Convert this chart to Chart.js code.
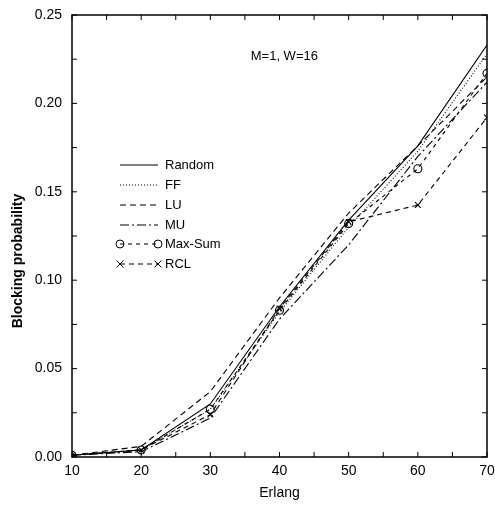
<!DOCTYPE html>
<html>
<head>
<meta charset="utf-8">
<script src="https://cdn.jsdelivr.net/npm/chart.js@4/dist/chart.umd.min.js"></script>
<style>
html,body{margin:0;padding:0;background:#fff;}
#wrap{width:495px;height:510px;}
</style>
</head>
<body>
<div id="wrap"><canvas id="c" width="495" height="510"></canvas></div>
<script>
const erlang = [10, 20, 30, 40, 50, 60, 70];
const randomVals = [0.001, 0.004, 0.030, 0.085, 0.134, 0.176, 0.233];
const ffVals     = [0.001, 0.004, 0.027, 0.082, 0.130, 0.173, 0.228];
const luVals     = [0.001, 0.006, 0.037, 0.090, 0.138, 0.176, 0.215];
const muVals     = [0.001, 0.003, 0.022, 0.078, 0.120, 0.170, 0.212];
const maxSumVals = [0.001, 0.004, 0.027, 0.083, 0.132, 0.163, 0.217];
const rclVals    = [0.001, 0.004, 0.024, 0.084, 0.133, 0.1425, 0.192];
const seriesNames = ['Random', 'FF', 'LU', 'MU', 'Max-Sum', 'RCL'];
const yTicks = [0, 0.05, 0.10, 0.15, 0.20, 0.25];
const xTicks = [10, 20, 30, 40, 50, 60, 70];
const annotationText = 'M=1, W=16';
const xTitle = 'Erlang';
const yTitle = 'Blocking probability';

const FONT = '"Liberation Sans", Arial, sans-serif';
const toPts = vals => erlang.map((x, i) => ({x: x, y: vals[i]}));

const styles = [
  {dash: [], point: false, pstyle: 'circle'},
  {dash: [1, 2], point: false, pstyle: 'circle'},
  {dash: [6, 4], point: false, pstyle: 'circle'},
  {dash: [9, 3, 2, 3], point: false, pstyle: 'circle'},
  {dash: [4, 4], point: true, pstyle: 'circle'},
  {dash: [5, 4], point: true, pstyle: 'crossRot'}
];
const allVals = [randomVals, ffVals, luVals, muVals, maxSumVals, rclVals];

const datasets = seriesNames.map((n, i) => ({
  label: n,
  data: toPts(allVals[i]),
  borderColor: '#000',
  backgroundColor: 'rgba(0,0,0,0)',
  borderWidth: 1.1,
  borderDash: styles[i].dash,
  pointRadius: styles[i].point ? 4 : 0,
  pointStyle: styles[i].pstyle,
  pointBorderColor: '#000',
  pointBorderWidth: 1.1,
  tension: 0
}));

const framePlugin = {
  id: 'frame',
  afterDraw(chart) {
    const ctx = chart.ctx;
    const a = chart.chartArea;
    const xs = chart.scales.x, ys = chart.scales.y;
    ctx.save();
    ctx.strokeStyle = '#000';
    ctx.lineWidth = 1.5;
    ctx.setLineDash([]);
    ctx.strokeRect(a.left, a.top, a.right - a.left, a.bottom - a.top);
    ctx.lineWidth = 1;
    for (let v = 10; v <= 70; v += 5) {
      const px = xs.getPixelForValue(v);
      const len = 5;
      ctx.beginPath();
      ctx.moveTo(px, a.bottom); ctx.lineTo(px, a.bottom - len);
      ctx.moveTo(px, a.top); ctx.lineTo(px, a.top + len);
      ctx.stroke();
    }
    for (let k = 0; k <= 10; k++) {
      const v = k * 0.025;
      const py = ys.getPixelForValue(v);
      const len = 5;
      ctx.beginPath();
      ctx.moveTo(a.left, py); ctx.lineTo(a.left + len, py);
      ctx.moveTo(a.right, py); ctx.lineTo(a.right - len, py);
      ctx.stroke();
    }
    ctx.fillStyle = '#000';
    ctx.save();
    ctx.translate(18, 261);
    ctx.rotate(-Math.PI / 2);
    ctx.font = 'bold 14px ' + FONT;
    ctx.textAlign = 'center';
    ctx.textBaseline = 'middle';
    ctx.fillText(yTitle, 0, 0);
    ctx.restore();
    ctx.font = '13px ' + FONT;
    ctx.textAlign = 'center';
    ctx.textBaseline = 'middle';
    ctx.fillText(annotationText, xs.getPixelForValue(40.7), ys.getPixelForValue(0.2265));
    const x1 = 120, x2 = 158, tx = 165;
    const rowY = [165, 185, 205, 225, 244, 264];
    ctx.textAlign = 'left';
    datasets.forEach((d, i) => {
      const y = rowY[i];
      ctx.beginPath();
      ctx.setLineDash(d.borderDash);
      ctx.moveTo(x1, y); ctx.lineTo(x2, y);
      ctx.stroke();
      ctx.setLineDash([]);
      if (d.pointRadius > 0) {
        [x1, x2].forEach(px => {
          ctx.beginPath();
          if (d.pointStyle === 'circle') {
            ctx.arc(px, y, 4, 0, Math.PI * 2);
          } else {
            ctx.moveTo(px - 3.5, y - 3.5); ctx.lineTo(px + 3.5, y + 3.5);
            ctx.moveTo(px - 3.5, y + 3.5); ctx.lineTo(px + 3.5, y - 3.5);
          }
          ctx.stroke();
        });
      }
      ctx.fillText(d.label, tx, y);
    });
    ctx.restore();
  }
};

new Chart(document.getElementById('c'), {
  type: 'line',
  data: {datasets: datasets},
  options: {
    responsive: false,
    animation: false,
    devicePixelRatio: 1,
    layout: {padding: {top: 15, right: 8, left: 0, bottom: 8}},
    plugins: {legend: {display: false}, tooltip: {enabled: false}},
    scales: {
      x: {
        type: 'linear', min: 10, max: 70,
        afterBuildTicks: s => { s.ticks = xTicks.map(v => ({value: v})); },
        afterFit: s => { s.height = 45; s.paddingLeft = 0; s.paddingRight = 0; },
        grid: {display: false, drawTicks: false},
        border: {display: false},
        ticks: {color: '#000', font: {family: FONT, size: 14}, padding: 6, maxRotation: 0},
        title: {display: true, text: xTitle, color: '#000', font: {family: FONT, size: 14}, padding: {top: 2, bottom: 0}}
      },
      y: {
        type: 'linear', min: 0, max: 0.25,
        afterBuildTicks: s => { s.ticks = yTicks.map(v => ({value: v})); },
        afterFit: s => { s.width = 72; s.paddingTop = 0; s.paddingBottom = 0; },
        grid: {display: false, drawTicks: false},
        border: {display: false},
        ticks: {color: '#000', font: {family: FONT, size: 14}, padding: 10, callback: v => Number(v).toFixed(2)},
        title: {display: false}
      }
    }
  },
  plugins: [framePlugin]
});
</script>
</body>
</html>
